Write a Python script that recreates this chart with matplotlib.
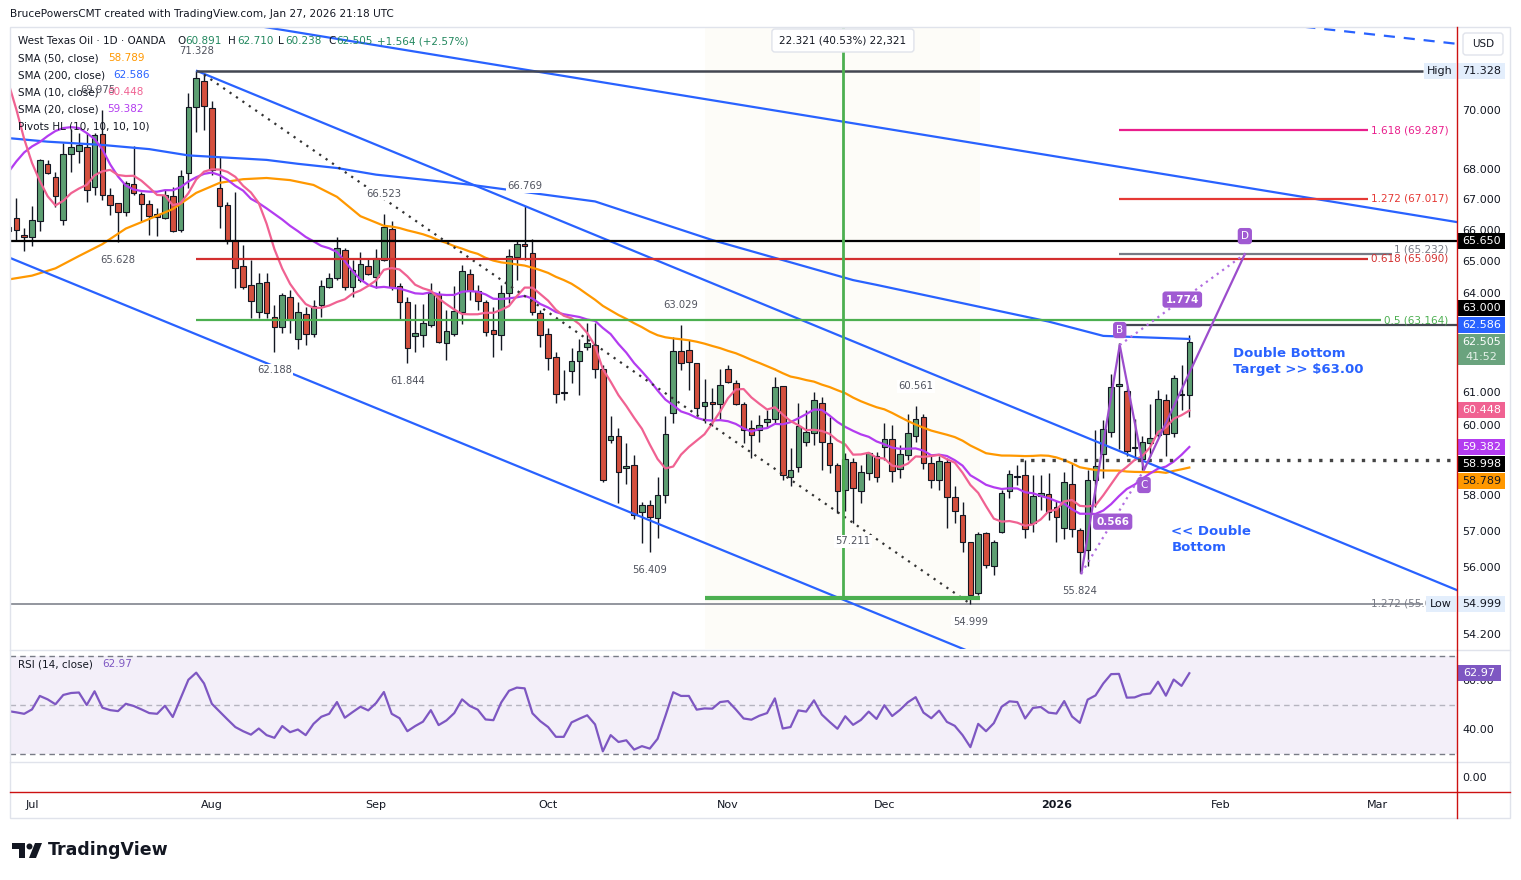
import matplotlib
matplotlib.use('Agg')
import matplotlib.pyplot as plt
import matplotlib.transforms as mtransforms
from matplotlib.patches import Rectangle, FancyBboxPatch, Polygon, Circle
from matplotlib.ticker import NullLocator, NullFormatter
import numpy as np
import pandas as pd

W, H = 1521, 880
PX = mtransforms.Affine2D().scale(1, -1).translate(0, H)   # top-left pixel coords

# bar 0 = 1 Jul 2025, bar 148 = 27 Jan 2026 (daily, OANDA WTI)
FIRST_BAR = -3

opens = [65.97, 66.38, 65.85,
         65.78, 66.31, 68.16, 67.74, 66.33, 68.49, 68.61, 68.74, 67.39, 69.16,
         67.15, 66.87, 66.60, 67.49, 67.16, 66.84, 66.52, 66.38, 67.10, 66.00,
         67.85, 70.10, 70.99, 70.04, 67.37, 66.82, 65.68, 64.87, 64.25, 63.41,
         64.35, 63.26, 62.94, 63.89, 62.58, 63.34, 62.74, 63.64, 64.20, 64.46,
         65.36, 64.20, 64.41, 64.84, 64.52, 65.03, 66.02, 64.23, 63.71, 62.67,
         62.71, 63.00, 63.96, 62.47, 62.73, 63.43, 64.60, 64.06, 63.72, 62.86,
         62.71, 63.99, 65.13, 65.57, 65.27, 63.39, 62.74, 62.03, 60.97, 61.63,
         61.93, 62.35, 62.40, 61.67, 59.58, 59.70, 58.76, 58.85, 57.53, 57.72,
         57.34, 58.00, 60.38, 62.22, 62.25, 61.85, 60.57, 60.69, 60.64, 61.69,
         61.27, 60.63, 59.92, 59.87, 60.09, 60.18, 61.17, 58.50, 58.81, 59.53,
         59.78, 60.65, 59.48, 58.85, 58.14, 58.95, 58.10, 58.62, 59.10, 59.37,
         59.60, 58.75, 59.14, 59.70, 60.24, 58.90, 58.43, 58.95, 57.95, 57.44,
         56.69, 55.28, 56.93, 56.03, 56.97, 58.10, 58.55, 58.57, 57.21, 57.97,
         58.04, 57.67, 57.07, 58.31, 57.02, 56.45, 58.43, 59.18, 59.81, 61.16,
         61.03, 59.33, 59.04, 59.48, 59.72, 60.75, 59.78, 60.90, 60.891]
highs = [66.20, 67.03, 66.06,
         66.78, 68.32, 68.30, 67.91, 68.88, 69.35, 69.20, 69.20, 69.20, 69.975,
         67.36, 66.87, 67.61, 68.76, 67.25, 66.98, 66.71, 67.30, 67.41, 67.96,
         70.58, 71.328, 71.20, 70.30, 68.41, 66.92, 67.25, 65.52, 65.05, 64.62,
         64.62, 63.63, 64.00, 64.10, 63.73, 63.58, 63.79, 64.41, 64.62, 65.79,
         65.42, 65.05, 65.31, 65.10, 65.40, 66.523, 66.28, 64.31, 63.89, 63.65,
         63.65, 64.33, 64.07, 63.48, 64.22, 64.88, 64.75, 64.26, 63.79, 63.58,
         64.26, 65.41, 65.68, 66.769, 65.70, 63.48, 62.91, 62.20, 61.65, 62.30,
         62.60, 63.08, 63.07, 61.80, 60.27, 59.92, 59.48, 59.14, 57.81, 57.86,
         58.52, 60.27, 62.64, 63.029, 62.56, 61.87, 61.37, 61.10, 61.69, 61.80,
         61.35, 60.70, 60.16, 60.31, 60.45, 61.43, 61.17, 59.34, 60.66, 60.45,
         61.00, 60.85, 60.24, 58.90, 59.19, 59.05, 58.85, 59.24, 59.24, 60.06,
         60.01, 59.43, 60.35, 60.561, 60.35, 59.10, 59.12, 59.05, 58.24, 57.81,
         56.69, 56.97, 56.97, 56.74, 58.14, 58.71, 58.85, 59.00, 58.57, 58.57,
         58.62, 57.84, 58.66, 58.90, 57.07, 58.71, 59.87, 60.16, 61.53, 62.45,
         61.17, 60.20, 59.68, 60.63, 61.05, 60.93, 61.50, 61.80, 62.710]
lows = [65.90, 65.68, 65.34,
        65.49, 65.98, 67.82, 66.76, 66.17, 67.91, 68.21, 66.92, 67.14, 66.98,
        66.49, 65.628, 66.44, 67.14, 66.31, 65.84, 65.81, 66.35, 65.94, 65.95,
        67.36, 69.25, 69.29, 67.80, 66.06, 65.57, 64.15, 64.12, 63.22, 63.22,
        63.22, 62.188, 62.76, 62.76, 62.29, 62.40, 62.66, 63.27, 64.15, 64.41,
        64.10, 63.89, 64.36, 64.57, 64.17, 65.00, 64.10, 63.17, 61.844, 62.20,
        62.33, 62.96, 62.47, 61.95, 62.67, 63.04, 63.79, 63.48, 62.67, 62.03,
        62.25, 63.68, 64.41, 65.03, 63.33, 62.33, 61.65, 60.65, 60.75, 61.25,
        60.90, 62.24, 61.40, 58.38, 59.48, 57.78, 58.31, 57.32, 56.65, 56.409,
        56.79, 57.78, 60.08, 61.65, 61.05, 60.27, 60.06, 59.97, 60.16, 61.25,
        60.60, 59.48, 59.05, 59.53, 59.92, 60.06, 58.43, 58.24, 58.66, 59.39,
        59.44, 58.71, 58.62, 57.49, 57.56, 57.211, 57.78, 58.41, 58.38, 59.00,
        58.38, 58.48, 59.00, 59.53, 58.75, 58.19, 58.14, 57.07, 57.20, 56.41,
        54.999, 55.23, 55.98, 55.78, 56.93, 57.90, 58.29, 56.80, 56.97, 57.58,
        57.30, 56.69, 56.77, 56.83, 55.824, 56.03, 57.67, 58.48, 59.65, 59.32,
        59.11, 59.00, 58.71, 59.10, 59.67, 59.10, 59.66, 60.45, 60.238]
closes = [66.10, 66.00, 65.79,
          66.33, 68.30, 67.85, 67.12, 68.49, 68.74, 68.80, 67.32, 69.13, 67.13,
          66.80, 66.60, 67.52, 67.21, 66.84, 66.47, 66.41, 67.14, 65.96, 67.77,
          70.08, 71.10, 70.12, 67.96, 66.79, 65.68, 64.78, 64.18, 63.77, 64.31,
          63.38, 62.94, 63.94, 63.16, 63.40, 62.74, 63.61, 64.21, 64.46, 65.42,
          64.20, 64.73, 64.92, 64.60, 65.10, 66.09, 64.18, 63.74, 62.32, 62.76,
          63.07, 63.99, 62.50, 62.82, 63.45, 64.70, 64.08, 63.76, 62.79, 62.73,
          63.99, 65.18, 65.57, 65.50, 63.43, 62.70, 62.02, 60.92, 60.95, 61.92,
          62.22, 62.45, 61.67, 58.43, 59.68, 58.66, 58.83, 57.44, 57.72, 57.37,
          58.00, 59.75, 62.22, 61.85, 61.90, 60.50, 60.69, 60.63, 61.19, 61.28,
          60.63, 59.87, 59.72, 60.00, 60.18, 61.15, 58.57, 58.71, 59.97, 59.82,
          60.75, 59.53, 58.85, 58.10, 59.02, 58.19, 58.64, 59.19, 58.52, 59.61,
          58.69, 59.17, 59.79, 60.18, 58.90, 58.43, 58.97, 57.93, 57.55, 56.69,
          55.23, 56.91, 56.05, 56.67, 58.06, 58.60, 58.51, 57.05, 57.97, 58.06,
          57.51, 57.39, 58.38, 57.04, 56.41, 58.43, 58.83, 59.89, 61.13, 61.22,
          59.27, 59.37, 59.53, 59.63, 60.77, 59.76, 61.40, 60.93, 62.505]

rsi_values = [47.5, 47.0, 46.4,
              48.2, 53.7, 52.3, 50.3, 54.1, 54.9, 55.1, 50.0, 55.6, 48.9,
              47.9, 47.5, 50.5, 49.6, 48.2, 46.7, 46.4, 49.7, 45.1, 52.7,
              60.3, 63.2, 58.8, 50.5, 47.3, 44.1, 41.0, 39.3, 37.9, 40.4,
              37.7, 36.6, 41.4, 38.9, 40.0, 37.7, 42.3, 45.2, 46.4, 51.2,
              44.8, 47.1, 49.3, 47.8, 50.8, 55.3, 46.4, 44.6, 39.3, 41.4,
              43.2, 47.9, 41.8, 43.7, 46.7, 52.3, 49.6, 48.1, 44.1, 43.8,
              51.0, 55.8, 57.1, 56.8, 46.6, 43.4, 41.0, 37.0, 37.0, 42.9,
              44.4, 45.8, 42.1, 31.1, 37.7, 34.9, 35.6, 31.8, 33.2, 32.2,
              36.2, 45.5, 55.2, 53.7, 53.7, 48.1, 48.6, 48.5, 51.2, 51.6,
              48.2, 44.5, 44.0, 45.6, 46.7, 52.7, 40.4, 41.0, 47.8, 47.3,
              51.9, 46.1, 43.1, 40.3, 45.4, 41.9, 43.9, 47.3, 44.3, 49.9,
              45.5, 48.0, 51.1, 53.2, 46.9, 44.6, 47.7, 43.1, 41.5, 37.7,
              32.8, 42.3, 39.3, 42.6, 49.3, 51.5, 51.2, 44.5, 48.8, 49.2,
              46.9, 46.5, 51.6, 45.3, 42.7, 52.2, 53.9, 58.8, 62.6, 62.7,
              53.0, 53.1, 54.3, 54.7, 59.5, 53.8, 60.4, 57.8, 62.97]

sma10_early = [70.9, 70.0, 69.0, 68.2, 67.6, 67.1, 66.8, 66.95, 67.2]
sma20_early = [67.9, 68.25, 68.55, 68.75, 68.9, 69.1, 69.27, 69.37, 69.4, 69.37,
               69.2, 69.0, 68.65, 68.15, 67.75, 67.45, 67.32, 67.27, 67.25]
sma50_early_bars = [-3, 0, 3, 6, 9, 12, 15, 18, 21, 24, 27, 30, 33, 36, 39, 42, 45]
sma50_early = [64.43, 64.55, 64.78, 65.17, 65.55, 66.05, 66.36, 66.68, 67.21,
               67.54, 67.66, 67.70, 67.63, 67.47, 67.08, 66.45, 66.14]
sma200_bars = [-3, 2, 9, 15, 20, 24, 30, 34, 39, 44, 56, 72, 87, 105, 108, 130, 137, 148]
sma200_vals = [69.03, 68.91, 68.80, 68.66, 68.45, 68.39, 68.30, 68.17, 68.03, 67.81,
               67.48, 66.93, 65.68, 64.41, 64.26, 63.12, 62.68, 62.586]

month_bars = [0, 23, 44, 66, 89, 109, 131, 152, 172]
month_labels = ['Jul', 'Aug', 'Sep', 'Oct', 'Nov', 'Dec', '2026', 'Feb', 'Mar']
price_ticks = [70, 68, 67, 66, 65, 64, 61, 60, 58, 57, 56, 54.2]

# pivots: bar, price
pivot_highs = [(9, 69.975), (21, 71.328), (45, 66.523), (63, 66.769), (83, 63.029), (113, 60.561)]
pivot_lows = [(11, 65.628), (31, 62.188), (48, 61.844), (79, 56.409), (105, 57.211),
              (120, 54.999), (134, 55.824)]

high_level, low_level = 71.328, 54.999
key_level = 65.650
target_level = 63.000
neck_level = 58.998
fib_ret = [(0.5, 63.164, '#4caf50'), (0.618, 65.090, '#d32f2f')]
fib_ext = [(1.618, 69.287, '#e91e8c'), (1.272, 67.017, '#e53935'), (1, 65.232, '#787b86')]

# ABCD pattern points (bar, price)
abcd = {'A': (134.2, 55.824), 'B': (139.1, 62.40), 'C': (142.2, 58.71), 'D': (155.1, 65.232)}

# trendline anchors (bar, price)
channel_upper = [(21.1, 71.33), (182.2, 55.37)]
channel_lower = [(-2.8, 65.11), (121, 53.64)]
long_trend = [(20, 73.32), (182.2, 66.26)]
dashed_trend = [(150, 73.28), (182.2, 72.28)]
swing_line = [(22, 71.2), (120, 54.999)]

UP, DOWN, INK = '#5d9f72', '#d4503e', '#131722'
C10, C20, C50, C200 = '#f06292', '#b33cf0', '#ff9800', '#2962ff'


def fig_px_y(ax, v):
    return H - ax.transData.transform((0, v))[1]


def fig_px_x(ax, k):
    return ax.transData.transform((k, 60))[0]


def tag(fig, y, text, bg, fg, x0=1458, w=47, h=16, size=8):
    fig.add_artist(Rectangle((x0, y - h / 2), w, h, transform=PX, fc=bg, ec='none', zorder=5))
    fig.text(x0 + w / 2, y, text, transform=PX, ha='center', va='center', color=fg,
             fontsize=size, zorder=6)


def price_panel(fig, ax, bars):
    ax.set_yscale('log')
    ax.set_ylim(53.80, 72.84)
    ax.set_xlim(-2.813, 182.23)
    ax.set_facecolor('white')
    for s in ax.spines.values():
        s.set_visible(False)

    # measure tool shading
    ax.axvspan(86.1, 121.2, color='#fdfcf8', lw=0, zorder=0)

    for k, o, h, l, c in zip(bars, opens, highs, lows, closes):
        col = UP if c >= o else DOWN
        ax.vlines(k, l, h, color=INK, lw=1, zorder=3)
        lo, hi = min(o, c), max(o, c)
        if hi - lo < 0.04:
            hi = lo + 0.04
        ax.add_patch(Rectangle((k - 0.36, lo), 0.72, hi - lo, fc=col, ec=INK, lw=0.8, zorder=4))

    s = pd.Series(closes)
    sma10 = s.rolling(10).mean().to_numpy()
    sma10[:9] = sma10_early
    sma20 = s.rolling(20).mean().to_numpy()
    sma20[:19] = sma20_early
    sma50 = s.rolling(50).mean().to_numpy()
    ax.plot(sma200_bars, sma200_vals, color=C200, lw=1.6, zorder=5)
    ax.plot(sma50_early_bars + bars[49:], sma50_early + list(sma50[49:]), color=C50, lw=1.6, zorder=5)
    ax.plot(bars, sma20, color=C20, lw=1.6, zorder=5)
    ax.plot(bars, sma10, color=C10, lw=1.6, zorder=5)

    # trendlines
    for pts, ls in ((channel_upper, '-'), (channel_lower, '-'), (long_trend, '-'),
                    (dashed_trend, (0, (5, 4)))):
        ax.plot([p[0] for p in pts], [p[1] for p in pts], color=C200, lw=1.6, ls=ls, zorder=6)
    ax.plot([p[0] for p in swing_line], [p[1] for p in swing_line], color='#333333', lw=1.6,
            ls=(0, (1, 2.5)), zorder=6)

    right = 182.23
    ax.hlines(key_level, -3, right, color='black', lw=1.6, zorder=6)
    ax.hlines(high_level, 21, 177.9, color='#434651', lw=1.8, zorder=6)
    ax.hlines(low_level, -3, 177.9, color='#8a8d96', lw=1.3, zorder=2)
    ax.hlines(target_level, 139, right, color='#434651', lw=1.6, zorder=6)
    ax.hlines(neck_level, 126.3, right, color='#444444', lw=2.4, ls=(0, (1, 2.2)), zorder=6)

    for ratio, lvl, col in fib_ret:
        end = 172.5 if ratio == 0.5 else 170.8
        ax.hlines(lvl, 21, end, color=col, lw=1.6, zorder=6)
    for ratio, lvl, col in fib_ext:
        end = 173.9 if ratio == 1 else 170.8
        ax.hlines(lvl, 139, end, color=col, lw=1.6, zorder=6)
    for ratio, lvl, col in fib_ret + fib_ext:
        dy = -5 if ratio == 1 else 0
        ax.annotate(f'{ratio:g} ({lvl:.3f})', (181.1, lvl), xytext=(0, -dy), textcoords='offset pixels',
                    ha='right', va='center', color=col, fontsize=7.5, zorder=7)
    ax.annotate('1.272 (55.077)', (181.1, low_level), ha='right', va='center', color='#787b86',
                fontsize=7.5, zorder=7)

    # measure tool
    ax.vlines(103.7, 55.16, 72.84, color='#4caf50', lw=2, zorder=6)
    ax.hlines(55.16, 86.1, 121.2, color='#4caf50', lw=3, zorder=6)

    # ABCD pattern
    A, B, C, D = abcd['A'], abcd['B'], abcd['C'], abcd['D']
    pc = '#9c4dcc'
    ax.plot([A[0], B[0], C[0], D[0]], [A[1], B[1], C[1], D[1]], color=pc, lw=1.6, zorder=7)
    for p, q in ((A, C), (B, D)):
        ax.plot([p[0], q[0]], [p[1], q[1]], color='#b26ee0', lw=1.6, ls=(0, (1, 2)), zorder=7)
    box = dict(boxstyle='round,pad=0.3,rounding_size=0.3', fc='#a05ad2', ec='none')
    for name, dy in (('B', 15), ('C', -15), ('D', 18)):
        ax.annotate(name, abcd[name], xytext=(0, dy), textcoords='offset pixels', ha='center',
                    va='center', color='white', fontsize=7.5, bbox=box, zorder=9)
    for p, q, txt in ((A, C, '0.566'), (B, D, '1.774')):
        mid = ((p[0] + q[0]) / 2, np.sqrt(p[1] * q[1]))
        ax.annotate(txt, mid, ha='center', va='center', color='white', fontsize=7.5,
                    fontweight='bold', bbox=box, zorder=9)

    # pivot labels
    lab = dict(ha='center', va='center', color='#50535e', fontsize=7.2, textcoords='offset pixels',
               bbox=dict(boxstyle='square,pad=0.15', fc='white', ec='none'), zorder=8)
    for k, v in pivot_highs:
        dx = -5 if k == 9 else 0
        ax.annotate(f'{v:.3f}', (k, v), xytext=(dx, 20), **lab)
    for k, v in pivot_lows:
        ax.annotate(f'{v:.3f}', (k, v), xytext=(0, -18), **lab)

    blue = dict(color='#2962ff', fontsize=9.5, fontweight='bold', ha='left', va='center', zorder=8)
    ax.text(153.6, 62.13, 'Double Bottom', **blue)
    ax.text(153.6, 61.65, 'Target >> $63.00', **blue)
    ax.text(145.7, 56.97, '<< Double', **blue)
    ax.text(145.7, 56.53, 'Bottom', **blue)

    ax.set_xticks([])
    ax.set_yticks(price_ticks)
    ax.set_yticklabels([f'{v:.3f}' for v in price_ticks])
    ax.yaxis.set_minor_locator(NullLocator())
    ax.yaxis.set_minor_formatter(NullFormatter())
    ax.yaxis.tick_right()
    ax.tick_params(axis='y', length=0, pad=3.6, labelsize=8, labelcolor=INK)


def rsi_panel(ax, bars):
    ax.set_xlim(-2.813, 182.23)
    ax.set_ylim(27.14, 72.45)
    for s in ax.spines.values():
        s.set_visible(False)
    ax.axhspan(30, 70, color='#7e57c2', alpha=0.09, lw=0)
    for lvl, a in ((70, 1.0), (50, 0.5), (30, 1.0)):
        ax.axhline(lvl, color='#787b86', lw=1, ls=(0, (4, 3)), alpha=a)
    ax.plot(bars, rsi_values, color='#7e57c2', lw=1.6)
    ax.set_xticks([])
    ax.set_yticks([60, 40])
    ax.set_yticklabels(['60.00', '40.00'])
    ax.yaxis.tick_right()
    ax.tick_params(axis='y', length=0, pad=3.6, labelsize=8, labelcolor=INK)


def main():
    fig = plt.figure(figsize=(W / 100, H / 100), dpi=100)
    fig.patch.set_facecolor('white')
    L, Wd = 10 / W, 1447 / W
    ax = fig.add_axes([L, (H - 649) / H, Wd, 621 / H])
    ax2 = fig.add_axes([L, (H - 761) / H, Wd, 111 / H])
    ax3 = fig.add_axes([L, (H - 792) / H, Wd, 30 / H])
    bars = list(range(FIRST_BAR, FIRST_BAR + len(closes)))

    price_panel(fig, ax, bars)
    rsi_panel(ax2, bars)

    ax3.set_xlim(-2.813, 182.23)
    ax3.set_ylim(-1, 1)
    for s in ax3.spines.values():
        s.set_visible(False)
    ax3.set_yticks([0])
    ax3.set_yticklabels(['0.00'])
    ax3.yaxis.tick_right()
    ax3.tick_params(axis='y', length=0, pad=3.6, labelsize=8, labelcolor=INK)
    ax3.set_xticks(month_bars)
    ax3.set_xticklabels(month_labels)
    ax3.tick_params(axis='x', length=0, pad=5.5, labelsize=8, labelcolor=INK)
    ax3.get_xticklabels()[6].set_fontweight('bold')

    # frame, separators, highlighted scale borders
    fig.add_artist(Rectangle((10, 27), 1500, 791, transform=PX, fill=False, ec='#e0e3eb', lw=1))
    for y in (649.5, 761.5):
        fig.add_artist(plt.Line2D([10, 1510], [y, y], transform=PX, color='#e0e3eb', lw=1))
    fig.add_artist(plt.Line2D([1457, 1457], [27, 818], transform=PX, color='#cc1111', lw=1, zorder=7))
    fig.add_artist(plt.Line2D([10, 1510], [792, 792], transform=PX, color='#cc1111', lw=1, zorder=7))

    fig.text(10, 14, 'BrucePowersCMT created with TradingView.com, Jan 27, 2026 21:18 UTC',
             transform=PX, fontsize=7.6, va='center', color=INK)

    green = '#22875e'
    row1 = [('West Texas Oil · 1D · OANDA', 18, INK), ('O', 177, INK), ('60.891', 185, green),
            ('H', 228, INK), ('62.710', 237, green), ('L', 278, INK), ('60.238', 285, green),
            ('C', 328, INK), ('62.505', 336, green), ('+1.564 (+2.57%)', 377, green)]
    for txt, x, col in row1:
        fig.text(x, 41, txt, transform=PX, fontsize=7.5, va='center', color=col, zorder=6)
    rows = [('SMA (50, close)', '58.789', 108, C50), ('SMA (200, close)', '62.586', 113, C200),
            ('SMA (10, close)', '60.448', 107, C10), ('SMA (20, close)', '59.382', 107, C20)]
    for i, (name, val, xv, col) in enumerate(rows):
        y = 58 + 17 * i
        fig.text(18, y, name, transform=PX, fontsize=7.5, va='center', color=INK, zorder=6)
        fig.text(xv, y, val, transform=PX, fontsize=7.5, va='center', color=col, zorder=6)
    fig.text(18, 126, 'Pivots HL (10, 10, 10, 10)', transform=PX, fontsize=7.5, va='center',
             color=INK, zorder=6)
    fig.text(18, 664, 'RSI (14, close)', transform=PX, fontsize=7.5, va='center', color=INK)
    fig.text(102, 664, f'{rsi_values[-1]:.2f}', transform=PX, fontsize=7.5, va='center',
             color='#7e57c2')

    # measure label
    mx = fig_px_x(ax, 103.7)
    fig.add_artist(FancyBboxPatch((mx - 71, 29), 142, 23, boxstyle='round,pad=0,rounding_size=3',
                                  transform=PX, fc='white', ec='#e0e3eb', lw=1, zorder=6))
    fig.text(mx, 40.5, '22.321 (40.53%) 22,321', transform=PX, ha='center', va='center',
             fontsize=7.5, color=INK, zorder=7)

    # USD
    fig.add_artist(FancyBboxPatch((1463, 33), 40, 22, boxstyle='round,pad=0,rounding_size=3',
                                  transform=PX, fc='white', ec='#e0e3eb', lw=1, zorder=6))
    fig.text(1483, 44, 'USD', transform=PX, ha='center', va='center', fontsize=7.5, color=INK, zorder=7)

    # price scale tags
    hb = '#e3eefc'
    tag(fig, fig_px_y(ax, high_level), f'{high_level:.3f}', hb, INK)
    tag(fig, fig_px_y(ax, high_level), 'High', hb, INK, x0=1424, w=32)
    tag(fig, fig_px_y(ax, low_level), f'{low_level:.3f}', hb, INK)
    tag(fig, fig_px_y(ax, low_level), 'Low', hb, INK, x0=1426, w=30)
    tag(fig, fig_px_y(ax, key_level), f'{key_level:.3f}', 'black', 'white')
    tag(fig, fig_px_y(ax, target_level) - 17.5, f'{target_level:.3f}', 'black', 'white')
    tag(fig, fig_px_y(ax, 62.586) - 14, '62.586', C200, 'white')
    yc = fig_px_y(ax, closes[-1])
    fig.add_artist(Rectangle((1458, yc - 8), 47, 31, transform=PX, fc='#6aa37e', ec='none', zorder=5))
    fig.text(1481.5, yc, f'{closes[-1]:.3f}', transform=PX, ha='center', va='center', color='white',
             fontsize=8, zorder=6)
    fig.text(1481.5, yc + 15, '41:52', transform=PX, ha='center', va='center', color='#e4f1e8',
             fontsize=8, zorder=6)
    tag(fig, fig_px_y(ax, 60.448), '60.448', C10, 'white')
    tag(fig, fig_px_y(ax, 59.382), '59.382', C20, 'white')
    tag(fig, fig_px_y(ax, neck_level) + 4, f'{neck_level:.3f}', 'black', 'white')
    tag(fig, fig_px_y(ax, 58.789) + 14, '58.789', C50, INK)
    tag(fig, fig_px_y(ax2, rsi_values[-1]), f'{rsi_values[-1]:.2f}', '#7e57c2', 'white', w=43)

    # TradingView logo
    fig.add_artist(Polygon([(12, 843), (25, 843), (25, 858), (19, 858), (19, 849), (12, 849)],
                           closed=True, transform=PX, fc=INK, ec='none'))
    fig.add_artist(Circle((29.5, 846.5), 3, transform=PX, fc=INK, ec='none'))
    fig.add_artist(Polygon([(35, 843), (42, 843), (36, 858), (29, 858)], closed=True,
                           transform=PX, fc=INK, ec='none'))
    fig.text(48, 850, 'TradingView', transform=PX, fontsize=12.5, fontweight='bold', va='center',
             color=INK)

    fig.savefig('out.png', dpi=100)


if __name__ == '__main__':
    main()
